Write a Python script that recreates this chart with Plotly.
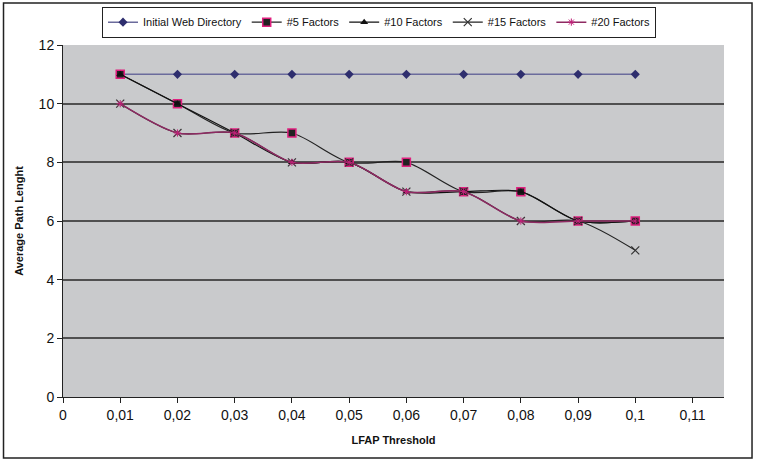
import plotly.graph_objects as go

thresholds = [0.01, 0.02, 0.03, 0.04, 0.05, 0.06, 0.07, 0.08, 0.09, 0.1]
initial = [11, 11, 11, 11, 11, 11, 11, 11, 11, 11]
f5 = [11, 10, 9, 9, 8, 8, 7, 7, 6, 6]
f10 = [11, 10, 9, 8, 8, 7, 7, 7, 6, 6]
f15 = [10, 9, 9, 8, 8, 7, 7, 6, 6, 5]
f20 = [10, 9, 9, 8, 8, 7, 7, 6, 6, 6]
x_ticks = [0, 0.01, 0.02, 0.03, 0.04, 0.05, 0.06, 0.07, 0.08, 0.09, 0.1, 0.11]
x_labels = ["0", "0,01", "0,02", "0,03", "0,04", "0,05", "0,06", "0,07", "0,08", "0,09", "0,1", "0,11"]
y_ticks = [0, 2, 4, 6, 8, 10, 12]

fig = go.Figure()
fig.add_trace(go.Scatter(x=thresholds, y=initial, name="Initial Web Directory", mode="lines+markers",
                         line=dict(color="#6b6b9c", width=1.5),
                         marker=dict(symbol="diamond", size=7, color="#2e2e6e")))
fig.add_trace(go.Scatter(x=thresholds, y=f5, name="#5 Factors", mode="lines+markers",
                         line=dict(color="#222222", width=1.2, shape="spline", smoothing=0.8),
                         marker=dict(symbol="square", size=8, color="#222222",
                                     line=dict(color="#e0207f", width=1.5))))
fig.add_trace(go.Scatter(x=thresholds, y=f10, name="#10 Factors", mode="lines+markers",
                         line=dict(color="#111111", width=1.2, shape="spline", smoothing=0.8),
                         marker=dict(symbol="triangle-up", size=7, color="#111111")))
fig.add_trace(go.Scatter(x=thresholds, y=f15, name="#15 Factors", mode="lines+markers",
                         line=dict(color="#222222", width=1.2, shape="spline", smoothing=0.8),
                         marker=dict(symbol="x-thin", size=8, color="#222222",
                                     line=dict(color="#333333", width=1.2))))
fig.add_trace(go.Scatter(x=thresholds, y=f20, name="#20 Factors", mode="lines+markers",
                         line=dict(color="#8e2a62", width=1.5, shape="spline", smoothing=0.8),
                         marker=dict(symbol="asterisk", size=6, color="#c02078",
                                     line=dict(color="#c02078", width=1))))

fig.update_layout(
    width=758, height=461,
    margin=dict(l=63, r=34, t=45, b=64, autoexpand=False),
    paper_bgcolor="white",
    plot_bgcolor="#c9cacc",
    font=dict(family="Liberation Sans, Arial, sans-serif", size=14, color="#111111"),
    showlegend=True,
    legend=dict(orientation="h", xref="container", yref="container",
                x=0.5, y=0.952, xanchor="center", yanchor="middle",
                bgcolor="white", bordercolor="#222222", borderwidth=1,
                font=dict(size=11), itemwidth=30, tracegroupgap=0),
    xaxis=dict(range=[0, 0.1155], tickvals=x_ticks, ticktext=x_labels,
               showgrid=False, zeroline=False, showline=True, linecolor="#222222", linewidth=1,
               ticks="outside", ticklen=5, tickcolor="#222222",
               title=dict(text="<b>LFAP Threshold</b>", font=dict(size=11), standoff=14)),
    yaxis=dict(range=[0, 12], tickvals=y_ticks, showgrid=True, gridcolor="#505050", gridwidth=1.5,
               zeroline=False, showline=True, linecolor="#222222", linewidth=1,
               ticks="outside", ticklen=5, tickcolor="#222222",
               title=dict(text="<b>Average Path Lenght</b>", font=dict(size=11), standoff=12)),
)
fig.add_shape(type="rect", xref="paper", yref="paper",
              x0=-0.09, x1=1.0424, y0=-0.173, y1=1.119,
              line=dict(color="#222222", width=1.5), fillcolor="rgba(0,0,0,0)", layer="below")
fig.write_html("out.html")
